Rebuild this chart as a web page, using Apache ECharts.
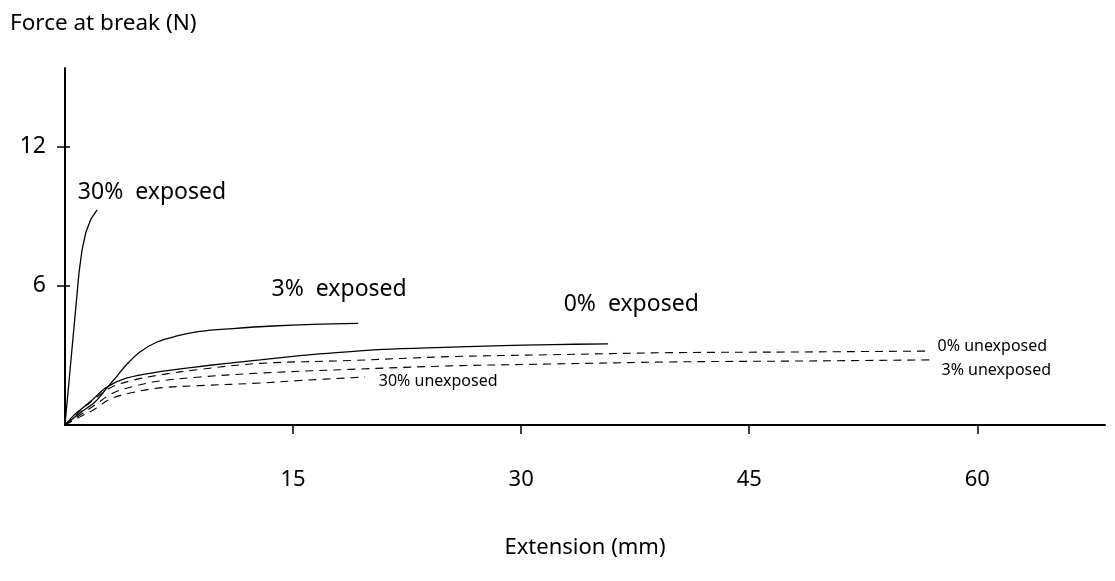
<!DOCTYPE html>
<html>
<head>
<meta charset="utf-8">
<title>Force at break vs extension</title>
<script src="https://cdn.jsdelivr.net/npm/echarts@6/dist/echarts.min.js"></script>
<style>
  html, body { margin: 0; padding: 0; background: #fff; }
  #chart { width: 1115px; height: 581px; }
</style>
</head>
<body>
<div id="chart"></div>
<script>
// Extension (mm), force at break (N) pairs for each specimen
const exposed30 = [[0, 0], [0.92, 6.56], [1.12, 7.55], [1.38, 8.33], [1.71, 8.89], [2.11, 9.28]];
const exposed3 = [[0, 0], [0.99, 0.52], [1.97, 0.99], [2.76, 1.60], [3.42, 2.11], [4.08, 2.63], [4.93, 3.15],
  [6.05, 3.58], [7.37, 3.84], [8.88, 4.04], [11.05, 4.16], [13.68, 4.27], [16.32, 4.34], [19.28, 4.38]];
const exposed0 = [[0, 0], [0.66, 0.47], [1.64, 0.99], [2.76, 1.64], [4.08, 2.03], [6.25, 2.30], [8.42, 2.49],
  [10.66, 2.66], [12.83, 2.81], [15.0, 2.96], [17.24, 3.09], [20.92, 3.26], [24.87, 3.35], [28.16, 3.41],
  [32.11, 3.47], [35.72, 3.50]];
const unexposed0 = [[0, 0], [0.86, 0.52], [1.78, 1.04], [2.96, 1.60], [4.28, 1.90], [6.25, 2.16], [8.88, 2.40],
  [12.83, 2.66], [18.75, 2.78], [25.33, 2.95], [31.91, 3.03], [39.80, 3.12], [48.36, 3.15], [56.91, 3.19]];
const unexposed3 = [[0, 0], [0.99, 0.43], [1.97, 0.86], [3.16, 1.38], [4.61, 1.68], [6.25, 1.90], [8.88, 2.07],
  [12.83, 2.24], [18.75, 2.40], [25.33, 2.55], [31.91, 2.63], [39.80, 2.72], [48.36, 2.76], [57.24, 2.81]];
const unexposed30 = [[0, 0], [0.99, 0.35], [1.97, 0.69], [2.96, 1.12], [4.28, 1.38], [6.25, 1.60], [8.88, 1.70],
  [12.83, 1.81], [15.46, 1.92], [19.74, 2.07]];

const seriesNames = ['30% exposed', '3% exposed', '0% exposed', '0% unexposed', '3% unexposed', '30% unexposed'];
const xTickValues = [15, 30, 45, 60];
const yTickValues = [6, 12];

// where each curve's caption sits, in axis units
const captionAnchors = [[5.72, 10.01], [18.03, 5.83], [37.24, 5.22], [60.99, 3.37], [61.25, 2.37], [24.54, 1.86]];

const FONT = '"Noto Sans", "DejaVu Sans", sans-serif';
const INK = '#000';

function curve(name, data, dashed, anchor, small, straight) {
  return {
    name: name,
    type: 'line',
    data: data,
    smooth: straight ? false : 0.35,
    symbol: 'none',
    silent: true,
    lineStyle: {
      color: INK,
      width: dashed ? 1.1 : 1.3,
      type: dashed ? [8, 6] : 'solid'
    },
    markPoint: {
      symbol: 'circle',
      symbolSize: 0,
      silent: true,
      data: [{ coord: anchor }],
      label: {
        show: true,
        position: 'inside',
        formatter: name.replace(' ', small ? ' ' : '  '),
        color: INK,
        fontFamily: FONT,
        fontSize: small ? 16 : 23
      }
    }
  };
}

const curves = [exposed30, exposed3, exposed0, unexposed0, unexposed3, unexposed30];

const axisFrame = { color: INK, width: 2 };
const tickStyle = { color: INK, width: 1.5 };

const chart = echarts.init(document.getElementById('chart'), null, { renderer: 'canvas' });
chart.setOption({
  animation: false,
  backgroundColor: '#fff',
  title: {
    text: 'Force at break (N)',
    left: 10,
    top: 12,
    padding: 0,
    textStyle: { fontFamily: FONT, fontSize: 22.5, fontWeight: 'normal', color: INK }
  },
  grid: { left: 65, right: 10, top: 68, bottom: 156, containLabel: false, outerBoundsMode: 'none' },
  xAxis: {
    type: 'value',
    min: 0,
    max: 68.4,
    name: 'Extension (mm)',
    nameLocation: 'middle',
    nameGap: 112,
    nameTextStyle: { fontFamily: FONT, fontSize: 22, color: INK, verticalAlign: 'top' },
    axisLine: { show: true, onZero: false, lineStyle: axisFrame },
    axisTick: { show: true, customValues: xTickValues, length: 9, lineStyle: tickStyle },
    axisLabel: { customValues: xTickValues, margin: 44, fontFamily: FONT, fontSize: 22, color: INK },
    splitLine: { show: false }
  },
  yAxis: [
    {
      type: 'value',
      min: 0,
      max: 15.4,
      axisLine: { show: true, onZero: false, lineStyle: axisFrame },
      axisTick: { show: true, customValues: yTickValues, length: 8, lineStyle: tickStyle },
      axisLabel: { customValues: yTickValues, margin: 19, fontFamily: FONT, fontSize: 23, color: INK },
      splitLine: { show: false }
    },
    {
      // inner half of the y ticks, so they cross the axis line
      type: 'value',
      position: 'left',
      min: 0,
      max: 15.4,
      axisLine: { show: false },
      axisTick: { show: true, inside: true, customValues: yTickValues, length: 5, lineStyle: tickStyle },
      axisLabel: { show: false },
      splitLine: { show: false }
    }
  ],
  series: curves.map((d, i) => curve(seriesNames[i], d, i >= 3, captionAnchors[i], i >= 3, i === 0))
});
</script>
</body>
</html>
